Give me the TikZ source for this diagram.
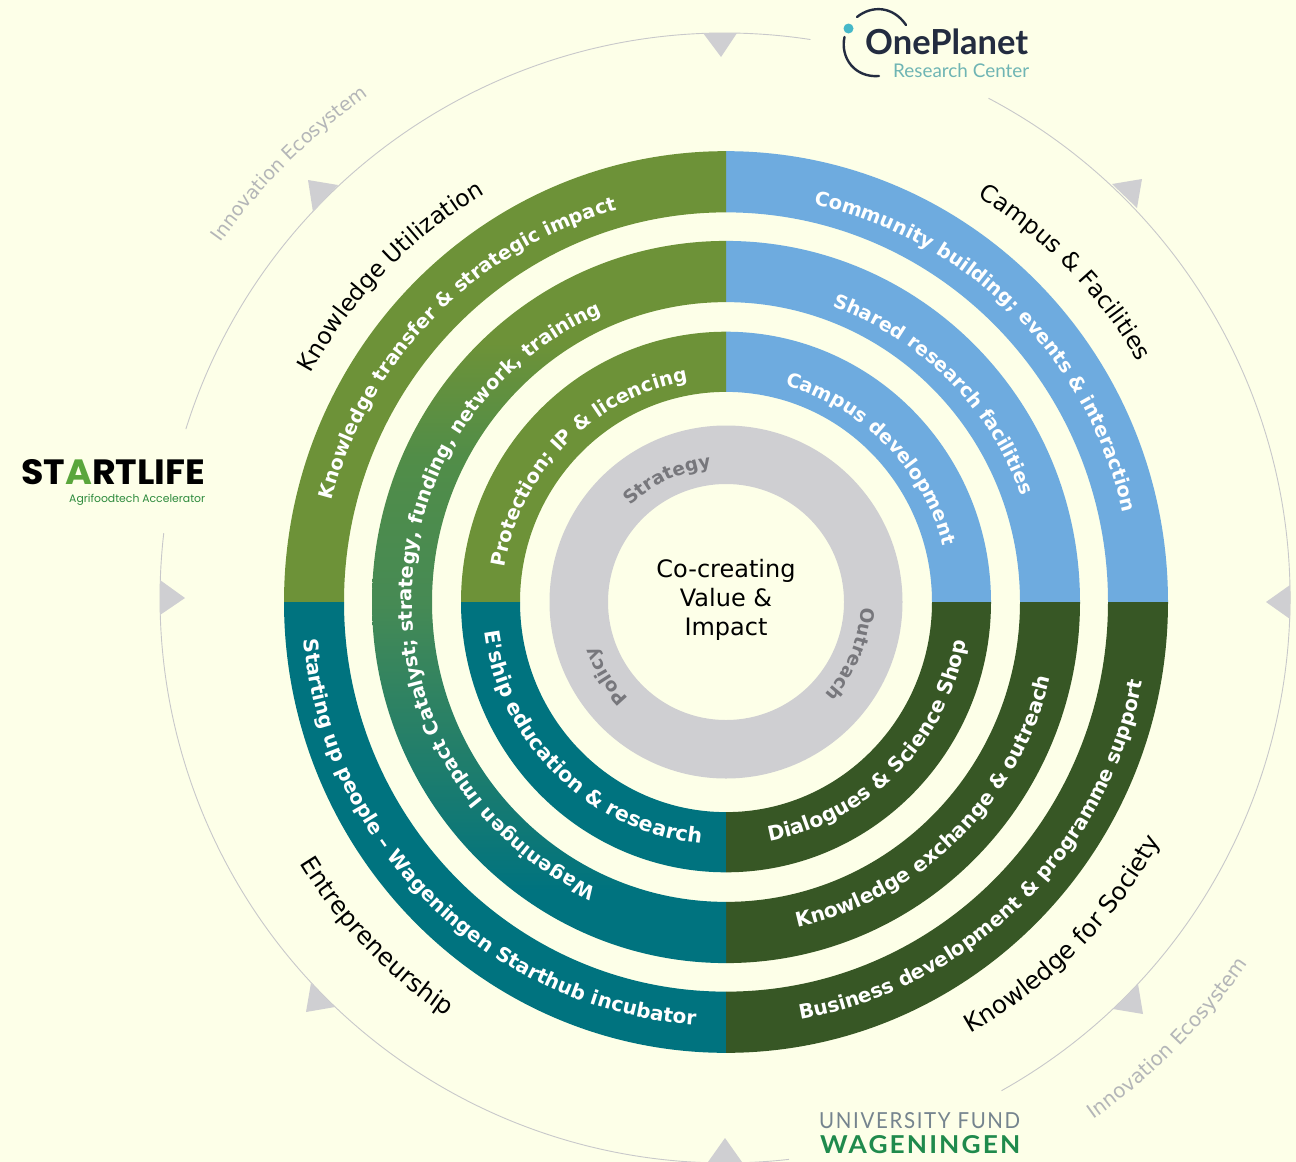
\documentclass[tikz,border=0pt]{standalone}
\usepackage{fontspec}
\usepackage{graphicx}
\usetikzlibrary{decorations.text}
\setmainfont{DejaVu Sans}
\newfontfamily\dvs{DejaVu Sans}
\newfontfamily\popp{Poppins}
\newfontfamily\latof{Lato}
\newfontfamily\latos[LetterSpace=8]{Lato}
\definecolor{bgc}{HTML}{FDFFE8}
\definecolor{gleaf}{HTML}{6D9238}
\definecolor{bsky}{HTML}{6EABDF}
\definecolor{gdark}{HTML}{375725}
\definecolor{tealc}{HTML}{00737F}
\definecolor{greyc}{HTML}{CFCFD2}
\definecolor{greyt}{HTML}{77777C}
\definecolor{linec}{HTML}{C8C8CA}
\definecolor{ecot}{HTML}{B4B6B8}
\definecolor{navy}{HTML}{232C40}
\definecolor{cyanc}{HTML}{45B8C8}
\definecolor{tealt}{HTML}{6FB5B4}
\definecolor{ufgrey}{HTML}{75848E}
\definecolor{ufgreen}{HTML}{1F8A4C}
\definecolor{slgreen}{HTML}{2E8B3D}
\definecolor{sla}{HTML}{5AA63C}
\definecolor{gmid}{HTML}{468A54}
\definecolor{gup}{HTML}{518D48}
\pgfdeclareverticalshading{ringgrad}{100bp}{color(0bp)=(tealc); color(30bp)=(tealc); color(50bp)=(gmid); color(60bp)=(gup); color(68bp)=(gleaf); color(100bp)=(gleaf)}
\newcommand\wtxt[1]{\color{white}\dvs\bfseries\fontsize{#1}{#1}\selectfont}
\newcommand\gtxt[1]{\color{greyt}\dvs\bfseries\fontsize{#1}{#1}\selectfont}
\newcommand\ktxt[1]{\color{black}\dvs\fontsize{#1}{#1}\selectfont}
\newcommand\etxt[1]{\color{ecot}\dvs\fontsize{#1}{#1}\selectfont}
\newcommand\ringband[5]{% inner r, outer r, start, end, colour
  \fill[#5] ({#2*cos(#3)},{#2*1.02*sin(#3)}) arc[start angle=#3,end angle=#4,x radius=#2,y radius=#2*1.02]
    -- ({#1*cos(#4)},{#1*1.02*sin(#4)}) arc[start angle=#4,end angle=#3,x radius=#1,y radius=#1*1.02] -- cycle;}
\newcommand\curvetext[6]{% r, y factor, start, end, format, text
  \pgfmathsetmacro\sa{#3-0.2*(#4-#3)}\pgfmathsetmacro\ea{#4+0.2*(#4-#3)}
  \path[decorate,decoration={text along path,text align=center,text={|#5|#6}}]
    ({#1*cos(\sa)},{#1*#2*sin(\sa)}) arc[start angle=\sa,end angle=\ea,x radius=#1,y radius=#1*#2];}
\tikzset{
  tri/.style={fill=greyc,draw=none},
  thin circle/.style={draw=linec,line width=0.9pt},
}
\begin{document}
\catcode`\&=12
\begin{tikzpicture}[x=1pt,y=1pt]
\useasboundingbox (0,0) rectangle (1296,-1162);
\fill[bgc] (0,0) rectangle (1296,-1162);
% outer thin circle
\begin{scope}[shift={(725,-598)}]
  \draw[thin circle] (81.3:565) arc[start angle=81.3,end angle=162.6,radius=565];
  \draw[thin circle] (173.4:565) arc[start angle=173.4,end angle=276.5,radius=565];
  \draw[thin circle] (-60.7:565) arc[start angle=-60.7,end angle=62.2,radius=565];
\end{scope}
% triangles
\fill[tri] (703,-33) -- (737,-33) -- (721,-57) -- cycle;
\fill[tri] (160,-580) -- (160,-615) -- (185,-598) -- cycle;
\fill[tri] (1290,-585) -- (1290,-619) -- (1266,-602) -- cycle;
\fill[tri] (708,-1162) -- (742,-1162) -- (725,-1138) -- cycle;
\fill[tri] (308,-180) -- (338,-185) -- (313,-212) -- cycle;
\fill[tri] (1112,-184) -- (1142,-179) -- (1137,-208) -- cycle;
\fill[tri] (311,-983) -- (335,-1007) -- (306,-1012) -- cycle;
\fill[tri] (1138,-984) -- (1143,-1014) -- (1113,-1009) -- cycle;
\begin{scope}[shift={(726,-602)}]
  % bands
  \ringband{382}{442}{0}{90}{bsky}
  \ringband{294}{354}{0}{90}{bsky}
  \ringband{206}{265}{0}{90}{bsky}
  \ringband{382}{442}{90}{180}{gleaf}
  \ringband{206}{265}{90}{180}{gleaf}
  \ringband{382}{442}{180}{270}{tealc}
  \ringband{206}{265}{180}{270}{tealc}
  \ringband{382}{442}{270}{360}{gdark}
  \ringband{294}{354}{270}{360}{gdark}
  \ringband{206}{265}{270}{360}{gdark}
  \shade[shading=ringgrad] (0,{354*1.02}) arc[start angle=90,end angle=270,x radius=354,y radius=354*1.02]
    -- (0,{-294*1.02}) arc[start angle=270,end angle=90,x radius=294,y radius=294*1.02] -- cycle;
  % grey ring
  \fill[greyc,even odd rule] (0,0) circle[radius=176.5] (0,0) circle[radius=118];
  % band texts
  \curvetext{407}{1}{77.5}{12.7}{\wtxt{19.5}}{Community building; events & interaction}
  \curvetext{314}{1}{70.3}{19.6}{\wtxt{19.2}}{Shared research facilities}
  \curvetext{224}{1}{74.8}{14.4}{\wtxt{19.3}}{Campus development}
  \curvetext{407}{1}{165.5}{105.6}{\wtxt{19.4}}{Knowledge transfer & strategic impact}
  \curvetext{314}{1}{245}{113.8}{\wtxt{19.4}}{Wageningen Impact Catalyst; strategy, funding, network, training}
  \curvetext{224}{1}{170.8}{100.2}{\wtxt{19.5}}{Protection; IP & licencing}
  \curvetext{424}{1}{185}{266}{\wtxt{20}}{Starting up people – Wageningen Starthub incubator}
  \curvetext{243}{1}{187.4}{263.8}{\wtxt{20.7}}{E'ship education & research}
  \curvetext{424}{1}{-80}{-10.7}{\wtxt{20}}{Business development & programme support}
  \curvetext{333}{1}{-77.8}{-12.9}{\wtxt{20.2}}{Knowledge exchange & outreach}
  \curvetext{243}{1}{-79.6}{-9.4}{\wtxt{20.4}}{Dialogues & Science Shop}
  % grey ring texts
  \curvetext{135}{1}{135}{96}{\gtxt{18.5}}{Strategy}
  \curvetext{135}{1}{-2.5}{-42.7}{\gtxt{18.5}}{Outreach}
  \curvetext{137}{1}{224}{200}{\gtxt{18.5}}{Policy}
  % outer labels
  \curvetext{474}{1}{151.7}{120}{\ktxt{23.4}}{Knowledge Utilization}
  \curvetext{477}{1}{58.2}{30.2}{\ktxt{23.6}}{Campus & Facilities}
  \curvetext{496}{1}{-60.6}{-28.6}{\ktxt{24.5}}{Knowledge for Society}
  \curvetext{500}{1}{211.2}{236.3}{\ktxt{24.5}}{Entrepreneurship}
  \curvetext{620}{1}{144.8}{125}{\etxt{19}}{Innovation Ecosystem}
  \curvetext{635}{1}{-55}{-34.3}{\etxt{20}}{Innovation Ecosystem}
\end{scope}
% centre
\node[align=center,font=\dvs\fontsize{24}{29}\selectfont,text=black,inner sep=0] (centre) at (726,-600) {Co-creating\\Value &\\Impact};
% OnePlanet logo
\fill[cyanc] (848.5,-28.5) circle[radius=5];
\draw[navy,line width=2.4pt,line cap=round] (857,-17) .. controls (872,-5) and (893,-6) .. (906,-25);
\draw[navy,line width=2.4pt,line cap=round] (844.5,-37) .. controls (840,-58) and (855,-78) .. (879,-76);
\node[anchor=base west,inner sep=0,text=navy,font=\latof\bfseries] (oneplanet) at (865,-54.5) {\resizebox{163pt}{!}{OnePlanet}};
\node[anchor=base west,inner sep=0,text=tealt,font=\latof] (research) at (893,-77) {\resizebox{136pt}{!}{Research Center}};
% Startlife logo
\node[anchor=base west,inner sep=0,text=black,font=\popp\bfseries] (startlife) at (21,-484) {\resizebox{184pt}{25pt}{ST\textcolor{sla}{A}RTLIFE}};
\node[anchor=base west,inner sep=0,text=slgreen,font=\popp] (agrifood) at (69,-502) {\resizebox{136pt}{!}{Agrifoodtech Accelerator}};
% University Fund logo
\node[anchor=base west,inner sep=0,text=ufgrey,font=\latos\fontsize{22}{22}\selectfont] (ufund) at (819,-1128) {\resizebox{201pt}{16pt}{UNIVERSITY FUND}};
\node[anchor=base west,inner sep=0,text=ufgreen,font=\latos\bfseries\fontsize{25}{25}\selectfont] (wag) at (820,-1153) {\resizebox{200pt}{18pt}{WAGENINGEN}};
\end{tikzpicture}
\end{document}
